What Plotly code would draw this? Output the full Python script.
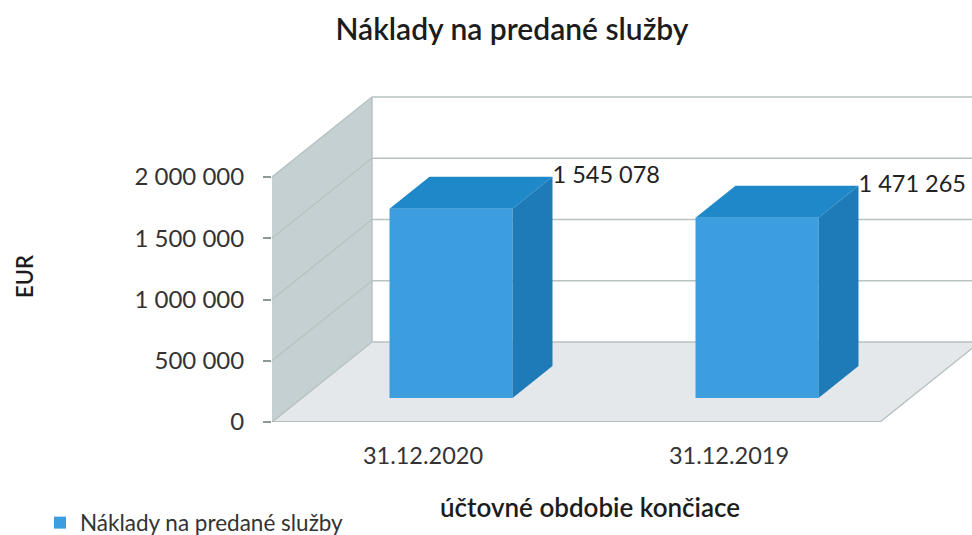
import plotly.graph_objects as go

title = "Náklady na predané služby"
x_title = "účtovné obdobie končiace"
y_title = "EUR"
categories = ["31.12.2020", "31.12.2019"]
values = [1545078, 1471265]
y_ticks = [0, 500000, 1000000, 1500000, 2000000]
y_tick_labels = ["0", "500 000", "1 000 000", "1 500 000", "2 000 000"]

# chart scale: one category step = 306 px, 2 000 000 = 245 px
PX_X = 1 / 306
PX_Y = 2000000 / 245
BAR_W = 123 * PX_X
BAR_DX, BAR_DY = 40 * PX_X, 32 * PX_Y      # bar depth
BASE = 24 * PX_Y                           # front of bars above the front floor edge
WALL_DX, WALL_DY = 100 * PX_X, 80 * PX_Y   # chart depth
X0 = -179 * PX_X                           # left front corner of the floor
X_END = 429 * PX_X                         # right front corner of the floor
TICK_SHIFT = -28 * PX_X
X_MAX = 521 * PX_X
Y_MAX = 326 * PX_Y

FRONT, TOP, SIDE = "#3c9ede", "#1f88c9", "#1f7ab8"
GRID, WALL, FLOOR = "#b8c2c2", "#c5d0d2", "#e4e8ea"

positions = list(range(len(categories)))
fig = go.Figure()


def poly(points):
    return "M" + " L".join(f"{px},{py}" for px, py in points) + " Z"


shapes = [
    dict(type="path", layer="below", xref="x", yref="y", line_width=0, fillcolor=FLOOR,
         path=poly([(X0, 0), (X0 + WALL_DX, WALL_DY), (X_END + WALL_DX, WALL_DY), (X_END, 0)])),
    dict(type="path", layer="below", xref="x", yref="y", line_width=0, fillcolor=WALL,
         path=poly([(X0, 0), (X0 + WALL_DX, WALL_DY), (X0 + WALL_DX, y_ticks[-1] + WALL_DY), (X0, y_ticks[-1])])),
]
for v in y_ticks:
    for a, b in [((X0, v), (X0 + WALL_DX, v + WALL_DY)),
                 ((X0 + WALL_DX, v + WALL_DY), (X_MAX, v + WALL_DY))]:
        shapes.append(dict(type="line", layer="below", xref="x", yref="y",
                           x0=a[0], y0=a[1], x1=b[0], y1=b[1],
                           line=dict(color=GRID, width=1.5)))
shapes.append(dict(type="line", layer="below", xref="x", yref="y", x0=X0, y0=0, x1=X_END, y1=0,
                   line=dict(color="#a9b0b0", width=1.5)))
shapes.append(dict(type="line", layer="below", xref="x", yref="y",
                   x0=X0 + WALL_DX, y0=WALL_DY, x1=X0 + WALL_DX, y1=y_ticks[-1] + WALL_DY,
                   line=dict(color=GRID, width=1.5)))
shapes.append(dict(type="line", layer="below", xref="x", yref="y", x0=X_END, y0=0,
                   x1=X_END + WALL_DX, y1=WALL_DY, line=dict(color=GRID, width=1.5)))

fig.add_trace(go.Bar(x=positions, y=values, base=BASE, width=BAR_W, name=title,
                     marker=dict(color=FRONT, line_width=0), showlegend=True, hoverinfo="skip"))

for p, v in zip(positions, values):
    l, r, b, t = p - BAR_W / 2, p + BAR_W / 2, BASE, BASE + v
    fig.add_trace(go.Scatter(x=[l, l + BAR_DX, r + BAR_DX, r, l],
                             y=[t, t + BAR_DY, t + BAR_DY, t, t],
                             mode="lines", fill="toself", fillcolor=TOP, line_width=0,
                             showlegend=False, hoverinfo="skip"))
    fig.add_trace(go.Scatter(x=[r, r + BAR_DX, r + BAR_DX, r, r],
                             y=[b, b + BAR_DY, t + BAR_DY, t, b],
                             mode="lines", fill="toself", fillcolor=SIDE, line_width=0,
                             showlegend=False, hoverinfo="skip"))

fig.add_trace(go.Scatter(
    x=[p + BAR_W / 2 + BAR_DX for p in positions],
    y=[v + BASE + BAR_DY for v in values],
    text=[f"{v:,}".replace(",", " ") for v in values],
    mode="text", textposition="middle right",
    textfont=dict(family="Lato", size=23.5, color="#222222"),
    showlegend=False, hoverinfo="skip", cliponaxis=False))

fig.update_layout(
    width=972, height=535, autosize=False,
    paper_bgcolor="white", plot_bgcolor="white",
    margin=dict(l=272, r=0, t=96, b=113, autoexpand=False),
    shapes=shapes,
    font=dict(family="Lato", color="#2a2a2a"),
    title=dict(text=title, x=512 / 972, xanchor="center", y=1 - 29 / 535, yanchor="middle",
               font=dict(family="Lato", size=30, weight=600, color="#1c1c1c")),
    showlegend=True,
    legend=dict(x=(40 - 272) / 700, xanchor="left", y=-(523 - 422) / 326, yanchor="middle",
                bgcolor="rgba(0,0,0,0)", font=dict(family="Lato", size=22.5, color="#333333"),
                itemwidth=30),
    xaxis=dict(range=[X0, X_MAX], tickmode="array",
               tickvals=[p + TICK_SHIFT for p in positions], ticktext=categories,
               showgrid=False, zeroline=False, showline=False, ticks="",
               ticklabelstandoff=17, tickfont=dict(family="Lato", size=23.5, color="#333333")),
    yaxis=dict(range=[0, Y_MAX], tickmode="array", tickvals=y_ticks, ticktext=y_tick_labels,
               showgrid=False, zeroline=False, showline=False, ticks="outside", ticklen=8,
               tickcolor="#8f9696", tickwidth=1.5, ticklabelstandoff=14,
               tickfont=dict(family="Lato", size=24, color="#333333")),
    annotations=[
        dict(text=x_title, xref="paper", yref="paper", x=(590 - 272) / 700, y=-(507 - 422) / 326,
             xanchor="center", yanchor="middle", showarrow=False,
             font=dict(family="Lato", size=26, weight=600, color="#1c1c1c")),
        dict(text=y_title, xref="paper", yref="paper", x=(24 - 272) / 700, y=(422 - 277) / 326,
             xanchor="center", yanchor="middle", showarrow=False, textangle=-90,
             font=dict(family="Lato", size=22, weight=600, color="#1c1c1c")),
    ],
)

fig.write_html("out.html", config={"displayModeBar": False},
               post_script="document.documentElement.style.overflow='hidden';document.body.style.margin='0';")
